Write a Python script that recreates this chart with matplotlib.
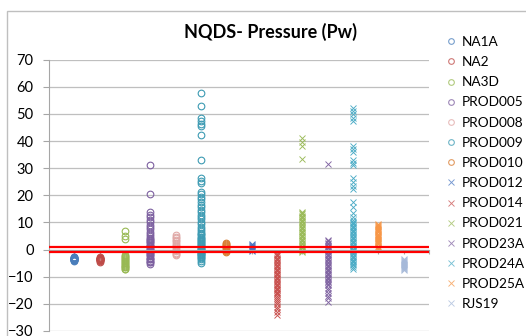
import numpy as np
import matplotlib
matplotlib.use("Agg")
import matplotlib.pyplot as plt
from matplotlib.patches import Rectangle

plt.rcParams['font.family'] = ['Lato', 'DejaVu Sans']

# series names, their x position (category index) and pressure values
names = ["NA1A", "NA2", "NA3D", "PROD005", "PROD008", "PROD009", "PROD010",
         "PROD012", "PROD014", "PROD021", "PROD23A", "PROD24A", "PROD25A", "RJS19"]
series_x = [1, 2, 3, 4, 5, 6, 7, 8, 9, 10, 11, 12, 13, 14]

na1a = [-2.6, -2.8, -3.0, -3.1, -3.2, -3.3, -3.4, -3.5, -3.6, -3.7, -3.8, -3.9, -4.0, -4.1]
na2 = [-2.8, -3.0, -3.2, -3.3, -3.4, -3.5, -3.6, -3.8, -3.9, -4.0, -4.2, -4.4]
na3d = [7.0, 4.9, 4.0, -2.0, -2.4, -2.8, -3.1, -3.5, -3.8, -4.2, -4.5, -4.9, -5.2,
        -5.6, -5.9, -6.3, -6.6, -7.0, -7.3]
prod005 = [31.1, 20.6, 13.8, 12.9, 12.0, 11.0, 10.1, 9.2, 8.3, 7.4, 6.6, 5.8, 5.0,
           4.3, 4.0, 3.6, 3.0, 2.7, 2.4, 1.8, 1.5, 1.2, 0.6, 0.3, 0.0, -0.6, -0.9,
           -1.2, -1.8, -2.1, -2.4, -3.0, -3.3, -3.6, -4.2, -4.5, -4.7, -5.2]
prod008 = [5.3, 4.8, 4.2, 3.6, 3.0, 2.4, 1.8, 1.2, 0.6, 0.0, -0.6, -1.2, -1.6, -2.0]
prod009 = [57.8, 53.0, 48.3, 47.3, 46.4, 45.5, 42.1, 33.1, 26.2, 25.3, 24.5, 21.3,
           20.4, 19.4, 18.5, 17.5, 16.6, 15.6, 14.7, 13.8, 12.9, 12.0, 11.1, 10.2,
           9.3, 8.4, 7.6, 6.8, 6.0, 5.6, 5.2, 4.8, 4.4, 4.0, 3.6, 3.2, 2.8, 2.4,
           2.0, 1.6, 1.3, 0.9, 0.6, 0.3, 0.0, -0.3, -0.6, -0.9, -1.2, -1.5, -1.8,
           -2.1, -2.4, -2.7, -3.0, -3.6, -4.2, -4.9]
prod010 = [2.4, 2.0, 1.6, 1.2, 0.8, 0.4, 0.0, -0.4, -0.8]
prod012 = [2.2, 1.8, 1.4, 1.0, 0.6, 0.2, -0.2, -0.6]
prod014 = [-1.5, -2.0, -2.5, -3.0, -3.5, -4.0, -4.5, -5.0, -5.5, -6.0, -6.5, -7.0,
           -7.5, -8.0, -8.5, -9.0, -9.5, -10.0, -10.5, -11.0, -11.5, -12.0, -12.5,
           -13.0, -13.5, -14.0, -14.5, -15.0, -15.5, -16.0, -16.5, -17.0, -17.7,
           -18.5, -19.3, -20.2, -21.0, -22.0, -23.0, -24.0]
prod021 = [41.0, 39.5, 38.2, 33.2, 14.0, 13.5, 13.0, 12.5, 12.0, 11.5, 11.0, 10.5,
           10.0, 9.5, 9.0, 8.5, 8.0, 7.5, 7.0, 6.5, 6.0, 5.5, 5.0, 4.5, 4.0, 3.5,
           3.0, 2.5, 2.0, 1.5, 1.0, 0.5, 0.0, -0.5, -0.8]
prod23a = [31.7, 3.5, 3.0, 2.5, 2.0, 1.5, 1.0, 0.5, 0.0, -0.5, -1.0, -1.5, -2.0,
           -2.5, -3.0, -3.5, -4.0, -4.5, -5.0, -5.5, -6.0, -6.5, -7.0, -7.5, -8.0,
           -8.5, -9.0, -9.5, -10.0, -10.5, -11.0, -11.5, -12.0, -12.5, -13.2,
           -14.0, -15.0, -16.0, -17.0, -18.0, -19.3]
prod24a = [52.0, 51.0, 49.8, 48.3, 47.5, 38.3, 37.2, 36.0, 33.0, 32.0, 31.0, 26.2,
           25.0, 23.5, 22.5, 17.6, 15.7, 13.4, 12.0, 10.8, 10.3, 9.8, 9.3, 8.8,
           8.3, 7.8, 7.3, 6.8, 6.3, 5.8, 5.3, 4.8, 4.3, 3.8, 3.3, 2.8, 2.3, 1.8,
           1.3, 0.8, 0.3, -0.2, -0.7, -1.2, -1.7, -2.2, -2.7, -3.2, -3.7, -4.2,
           -4.7, -5.2, -5.8, -6.4, -7.0]
prod25a = [9.5, 9.1, 8.7, 8.3, 7.9, 7.5, 7.1, 6.7, 6.3, 5.9, 5.5, 5.1, 4.7, 4.3,
           3.9, 3.5, 3.1, 2.7, 2.3, 1.9, 1.5, 1.1, 0.7, 0.3]
rjs19 = [-3.3, -3.7, -4.1, -4.5, -4.9, -5.3, -5.7, -6.1, -6.5, -6.9, -7.3, -7.7]

values = [na1a, na2, na3d, prod005, prod008, prod009, prod010,
          prod012, prod014, prod021, prod23a, prod24a, prod25a, rjs19]

colors = ["#4A7EBB", "#BE4B48", "#98B954", "#7D60A0", "#E0A8A6", "#3D9BB3", "#D87A2E",
          "#4674C1", "#C9504E", "#9BBB59", "#8064A2", "#4BACC6", "#F79646", "#A6B9D9"]
markers = ["o"] * 7 + ["x"] * 7

limit_lines = [1, -1]

fig = plt.figure(figsize=(5.26, 3.36), dpi=100)
ax = fig.add_axes([49 / 526, 5 / 336, 380 / 526, 271.4 / 336])

for name, xv, yv, c, m in zip(names, series_x, values, colors, markers):
    mew = 0.8 if m == "o" else 0.65
    ax.plot([xv] * len(yv), yv, linestyle="none", marker=m, markersize=4.8,
            markerfacecolor="none", markeredgecolor=c, markeredgewidth=mew,
            label=name)

for v in limit_lines:
    ax.axhline(v, color="#FF0000", lw=1.6, zorder=5)

ax.set_xlim(0, 15)
ax.set_ylim(-30, 70)
ax.set_yticks(np.arange(-30, 71, 10))
ax.yaxis.grid(True, color="#BFBFBF", lw=0.9)
ax.set_axisbelow(True)

for s in ["top", "right"]:
    ax.spines[s].set_visible(False)
ax.spines["left"].set_color("#A6A6A6")
ax.spines["bottom"].set_position(("data", 0))
ax.spines["bottom"].set_color("#A6A6A6")
ax.set_xticks(np.arange(0, 16, 1))
ax.tick_params(axis="x", length=3, color="#A6A6A6", labelbottom=False)
ax.tick_params(axis="y", length=4, color="#A6A6A6", labelsize=10.5, pad=7)

fig.text(270 / 526, 1 - 32 / 336, "NQDS- Pressure (Pw)", ha="center", va="center",
         fontsize=13, fontweight="bold")

leg = ax.legend(loc="upper left", bbox_to_anchor=(447 / 526, 1 - 36 / 336),
                bbox_transform=fig.transFigure, frameon=False, fontsize=9.8,
                handlelength=0.6, handletextpad=0.5, labelspacing=0.6,
                borderaxespad=0, borderpad=0, markerscale=0.85)
for h in leg.legend_handles:
    h.set_alpha(0.75)

fig.add_artist(Rectangle((7 / 526, -0.1), 1.0, 1 - 11 / 336 + 0.1, fill=False,
                         edgecolor="#BFBFBF", lw=1, transform=fig.transFigure))

fig.savefig("out.png", dpi=100)
